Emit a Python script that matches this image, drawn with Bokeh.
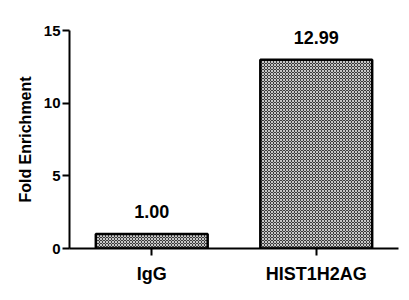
from bokeh.plotting import figure
from bokeh.models import ColumnDataSource, FactorRange, Range1d, LabelSet
from bokeh.core.properties import value
from bokeh.embed import file_html
from bokeh.resources import INLINE

categories = ["IgG", "HIST1H2AG"]
values = [1.00, 12.99]
labels = ["1.00", "12.99"]
y_ticks = [0, 5, 10, 15]

src = ColumnDataSource(dict(cat=categories, val=values, lab=labels))

p = figure(width=409, height=300, x_range=FactorRange(*categories, range_padding=0),
           y_range=Range1d(0, 15), output_backend="svg", toolbar_location=None,
           min_border_left=69, min_border_right=11, min_border_top=30, min_border_bottom=52)
p.x_range.range_padding = 0
p.outline_line_color = None
p.grid.visible = False

p.vbar(x="cat", top="val", width=0.68, source=src, fill_color="#3a3a3a",
       hatch_pattern="diagonal_cross", hatch_color="#c8c8c8", hatch_scale=3, hatch_weight=1,
       line_color="black", line_width=2.5)

lbl = LabelSet(x="cat", y="val", text="lab", source=src, text_align="center",
               text_baseline="alphabetic", y_offset=16, text_font=value("Liberation Sans"),
               text_font_style="bold", text_font_size="18px", text_color="black")
p.add_layout(lbl)

for ax in (p.xaxis[0], p.yaxis[0]):
    ax.axis_line_width = 2
    ax.axis_line_color = "black"
    ax.major_tick_line_width = 2
    ax.major_tick_line_color = "black"
    ax.major_tick_out = 7
    ax.major_tick_in = 0
    ax.minor_tick_line_color = None
    ax.major_label_text_font = "Liberation Sans"
    ax.major_label_text_font_style = "bold"
    ax.major_label_text_color = "black"

p.yaxis.ticker = y_ticks
p.yaxis.major_label_text_font_size = "15px"
p.yaxis.major_label_standoff = 2
p.yaxis.axis_label = "Fold Enrichment"
p.yaxis.axis_label_text_font = "Liberation Sans"
p.yaxis.axis_label_text_font_style = "bold"
p.yaxis.axis_label_text_font_size = "16px"
p.yaxis.axis_label_text_color = "black"
p.yaxis.axis_label_standoff = 7
p.xaxis.major_label_text_font_size = "18px"
p.xaxis.major_label_standoff = 8

open("out.html", "w").write(file_html(p, INLINE))
